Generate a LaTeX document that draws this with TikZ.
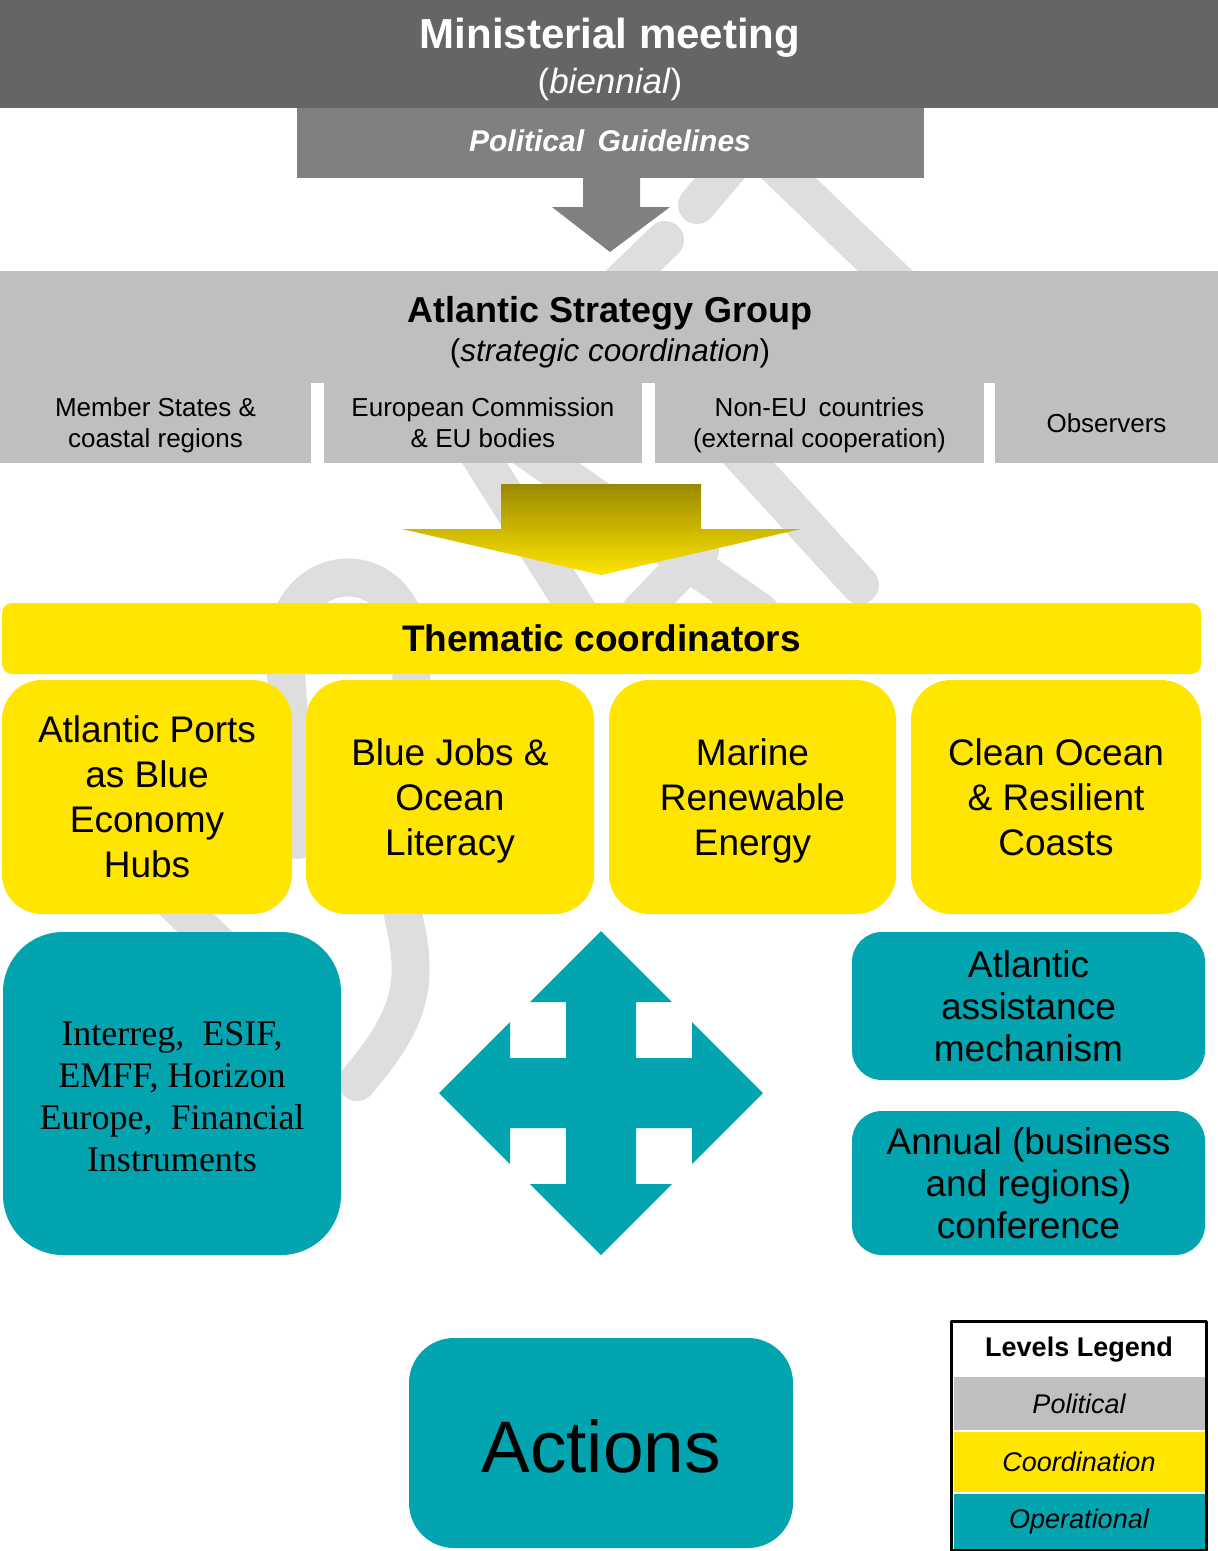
\documentclass[tikz,border=0pt]{standalone}
\usepackage{fontspec}
\setmainfont{Liberation Sans}
\newfontfamily\timesfont{Liberation Serif}
\usetikzlibrary{calc}
\definecolor{mmgray}{HTML}{656565}
\definecolor{pggray}{HTML}{808080}
\definecolor{asggray}{HTML}{BFBFBF}
\definecolor{wmgray}{HTML}{DEDEDE}
\definecolor{tcyellow}{HTML}{FFE500}
\definecolor{arrowtop}{HTML}{9A8900}
\definecolor{opteal}{HTML}{02A4AF}
\newcommand{\nodescent}[1]{\raisebox{0pt}[\height][0pt]{#1}}
\begin{document}
\begin{tikzpicture}[x=1pt,y=-1pt,line join=round,
  wmark/.style={draw=wmgray,line width=38pt,line cap=round},
  gbox/.style={fill=asggray,inner sep=0pt,minimum height=80pt,align=center,font=\fontsize{26}{31}\selectfont},
  ybox/.style={fill=tcyellow,rounded corners=40pt,inner sep=0pt,minimum height=234pt,align=center,font=\fontsize{37}{45}\selectfont},
  tbox/.style={fill=opteal,inner sep=0pt,align=center,font=\fontsize{37}{42}\selectfont},
  legrow/.style={inner sep=0pt,minimum width=251pt,font=\fontsize{27}{30}\selectfont\itshape}]
  \useasboundingbox[fill=white] (0,0) rectangle (1218,1551);
  \draw[wmark] (735,160) -- (697,205);
  \draw[wmark] (665,240) -- (520,380);
  \draw[wmark] (775,165) -- (905,290);
  \draw[wmark] (470,440) -- (580,615);
  \draw[wmark] (520,445) -- (760,612);
  \draw[wmark] (640,612) -- (700,550);
  \draw[wmark] (725,437) -- (860,585);
  \draw[wmark] (298,840) -- (285,660) .. controls (280,555) and (410,545) .. (412,660) -- (403,915) .. controls (420,985) and (410,1020) .. (357,1082);
  \draw[wmark] (130,860) -- (250,975);
  \node[fill=mmgray,inner sep=0pt,minimum width=1218pt,minimum height=108pt] (mm) at (609,54) {};
  \node[anchor=base,text=white,font=\fontsize{42}{50}\selectfont\bfseries] (mmtitle) at (610,48) {Ministerial meeting};
  \node[anchor=base,text=white,font=\fontsize{35}{40}\selectfont] (mmsub) at (610,93) {(\textit{biennial})};
  \node[fill=pggray,inner sep=0pt,minimum width=627pt,minimum height=70pt] (pg) at (610.5,143) {};
  \node[anchor=base,text=white,font=\fontsize{30}{36}\selectfont\bfseries\itshape] (pgtext) at (610,151) {Political\, Guidelines};
  \fill[pggray] (583,176) -- (640,176) -- (640,207) -- (670,207) -- (610,252) -- (552,207) -- (583,207) -- cycle;
  \node[fill=asggray,inner sep=0pt,minimum width=1218pt,minimum height=112pt] (asg) at (609,327) {};
  \node[anchor=base,font=\fontsize{36}{40}\selectfont\bfseries] (asgtitle) at (610,322) {Atlantic Strategy Group};
  \node[anchor=base,font=\fontsize{31.5}{36}\selectfont] (asgsub) at (610,361) {(\textit{strategic coordination})};
  \node[gbox,minimum width=311pt] (members) at (155.5,423) {Member States \&\\\nodescent{coastal regions}};
  \node[gbox,minimum width=318pt] (commission) at (483,423) {European Commission\\\& EU bodies};
  \node[gbox,minimum width=329pt] (noneu) at (819.5,423) {Non-EU\, countries\\\nodescent{(external cooperation)}};
  \node[gbox,minimum width=223pt] (observers) at (1106.5,423) {Observers};
  \shade[top color=arrowtop,bottom color=tcyellow] (501,484) -- (701,484) -- (701,529) -- (801,529) -- (601,575) -- (402,529) -- (501,529) -- cycle;
  \node[fill=tcyellow,rounded corners=10pt,inner sep=0pt,minimum width=1199pt,minimum height=71pt,font=\fontsize{37}{40}\selectfont\bfseries] (thematic) at (601.5,638.5) {Thematic coordinators};
  \node[ybox,minimum width=290pt] (ports) at (147,797) {Atlantic Ports\\as Blue\\Economy\\Hubs};
  \node[ybox,minimum width=288pt] (jobs) at (450,797) {Blue Jobs \&\\Ocean\\\nodescent{Literacy}};
  \node[ybox,minimum width=287pt] (marine) at (752.5,797) {Marine\\Renewable\\\nodescent{Energy}};
  \node[ybox,minimum width=290pt] (clean) at (1056,797) {Clean Ocean\\\& Resilient\\Coasts};
  \node[tbox,rounded corners=60pt,minimum width=338pt,minimum height=323pt,font=\fontsize{36}{42}\selectfont\timesfont] (funds) at (172,1093.5) {\rule{0pt}{30pt}Interreg,~ ESIF,\\EMFF, Horizon\\Europe,~ Financial\\Instruments};
  \node[tbox,rounded corners=30pt,minimum width=353pt,minimum height=148pt] (assist) at (1028.5,1006) {Atlantic\\assistance\\mechanism};
  \node[tbox,rounded corners=30pt,minimum width=353pt,minimum height=144pt] (annual) at (1028.5,1183) {Annual (business\\and regions)\\conference};
  \fill[opteal,shift={(601,1093)}] (0,-162) -- (71,-91) -- (35,-91) -- (35,-35) -- (91,-35) -- (91,-71) -- (162,0) -- (91,71) -- (91,35) -- (35,35) -- (35,91) -- (71,91) -- (0,162) -- (-71,91) -- (-35,91) -- (-35,35) -- (-91,35) -- (-91,71) -- (-162,0) -- (-91,-71) -- (-91,-35) -- (-35,-35) -- (-35,-91) -- (-71,-91) -- cycle;
  \node[tbox,rounded corners=45pt,minimum width=384pt,minimum height=210pt,font=\fontsize{73}{80}\selectfont] (actions) at (601,1443) {\rule{0pt}{60pt}Actions};
  \node[legrow,fill=white,minimum height=53pt,font=\fontsize{27}{30}\selectfont\bfseries] (leghead) at (1079,1349.5) {Levels Legend};
  \node[legrow,fill=asggray,minimum height=53pt] (legpol) at (1079,1403.5) {Political};
  \node[legrow,fill=tcyellow,minimum height=60pt] (legcoord) at (1079,1462) {Coordination};
  \node[legrow,fill=opteal,minimum height=55pt] (legop) at (1079,1521.5) {Operational};
  \draw[line width=3pt] (leghead.north west) ++(-1.5,-1.5) rectangle ($(legop.south east)+(1.5,1.5)$);
\end{tikzpicture}
\end{document}
